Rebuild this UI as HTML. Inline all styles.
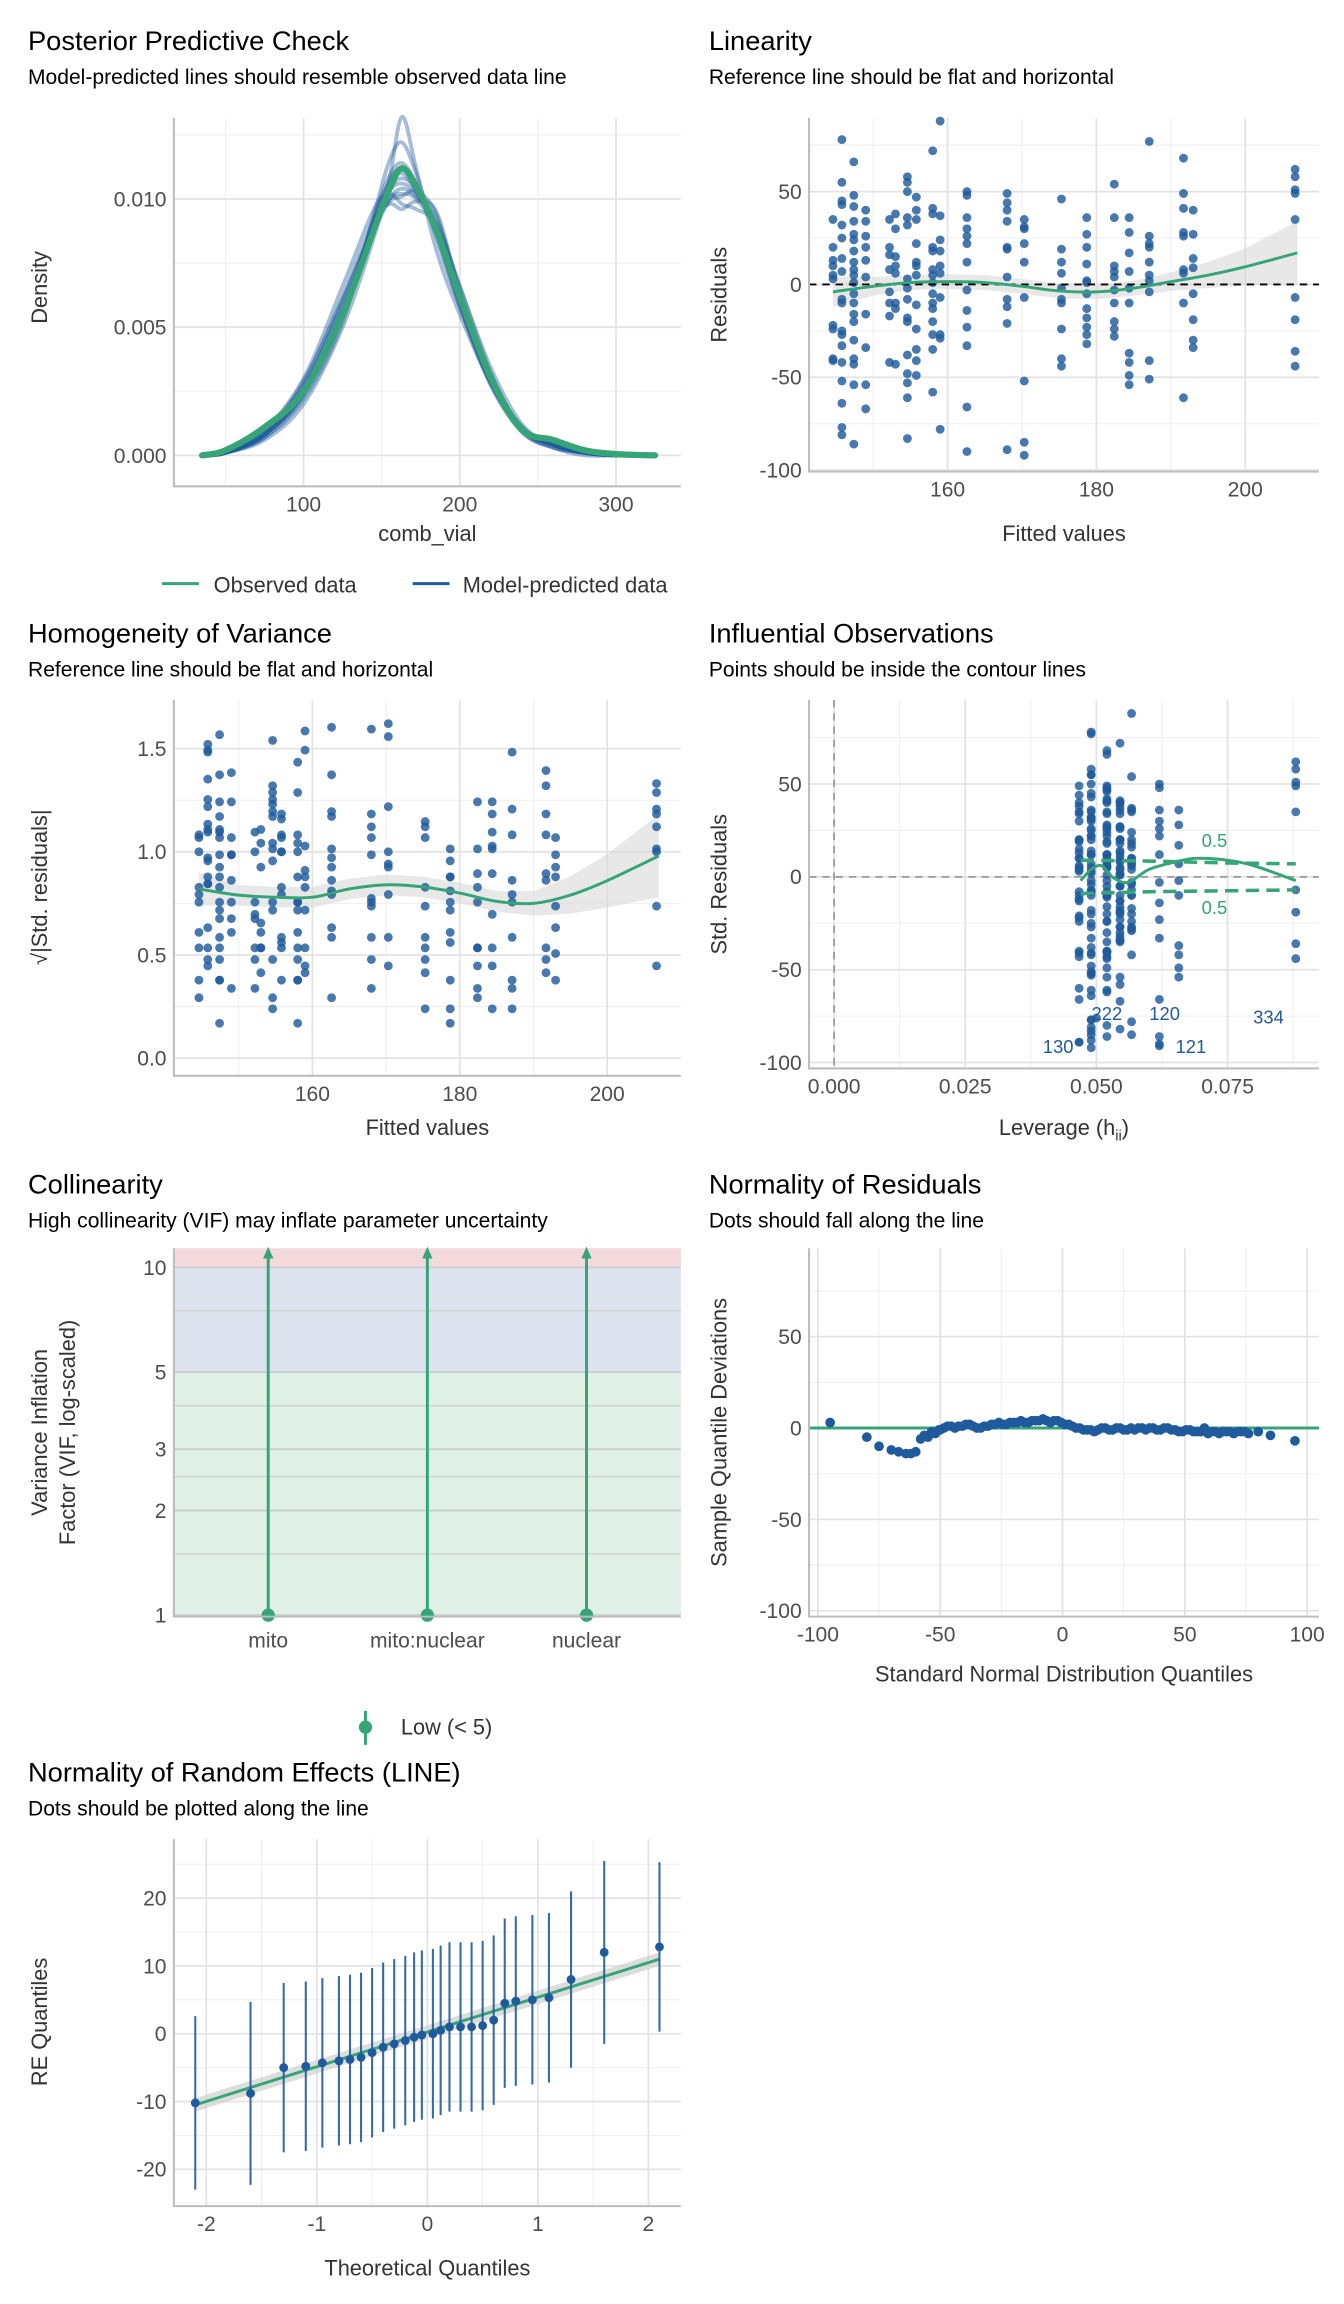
<!DOCTYPE html>
<html><head><meta charset="utf-8"><title>Model diagnostics</title>
<style>
html,body{margin:0;padding:0;background:#fff;}
svg{display:block;font-family:"Liberation Sans",Arial,sans-serif;}
.t{font-size:18.5px;fill:#000;}
.st{font-size:14.3px;fill:#000;}
.ax{font-size:14.8px;fill:#333;}
.tk{font-size:14.3px;fill:#4d4d4d;}
</style></head>
<body>
<svg id="fig" width="1344" height="2304" viewBox="0 0 912 1563.4" xmlns="http://www.w3.org/2000/svg">
<rect width="912" height="1563.4" fill="#fff"/>
<g id="bg"></g>
<g id="marks"></g>
<!-- titles -->
<text class="t" x="19" y="34">Posterior Predictive Check</text>
<text class="st" x="19" y="57">Model-predicted lines should resemble observed data line</text>
<text class="t" x="481" y="34">Linearity</text>
<text class="st" x="481" y="57">Reference line should be flat and horizontal</text>
<text class="t" x="19" y="436">Homogeneity of Variance</text>
<text class="st" x="19" y="459">Reference line should be flat and horizontal</text>
<text class="t" x="481" y="436">Influential Observations</text>
<text class="st" x="481" y="459">Points should be inside the contour lines</text>
<text class="t" x="19" y="810">Collinearity</text>
<text class="st" x="19" y="833">High collinearity (VIF) may inflate parameter uncertainty</text>
<text class="t" x="481" y="810">Normality of Residuals</text>
<text class="st" x="481" y="833">Dots should fall along the line</text>
<text class="t" x="19" y="1209">Normality of Random Effects (LINE)</text>
<text class="st" x="19" y="1232">Dots should be plotted along the line</text>
<!-- axis titles -->
<text class="ax" x="290" y="367" text-anchor="middle">comb_vial</text>
<text class="ax" transform="translate(32,195) rotate(-90)" text-anchor="middle">Density</text>
<text class="ax" x="722" y="367" text-anchor="middle">Fitted values</text>
<text class="ax" transform="translate(493,200) rotate(-90)" text-anchor="middle">Residuals</text>
<text class="ax" x="290" y="770" text-anchor="middle">Fitted values</text>
<text class="ax" transform="translate(32,602) rotate(-90)" text-anchor="middle">√|Std. residuals|</text>
<text class="ax" x="722" y="770" text-anchor="middle">Leverage (h<tspan font-size="10" dy="4">ii</tspan><tspan dy="-4">)</tspan></text>
<text class="ax" transform="translate(493,600) rotate(-90)" text-anchor="middle">Std. Residuals</text>
<text class="ax" transform="translate(32,972) rotate(-90)" text-anchor="middle">Variance Inflation</text>
<text class="ax" transform="translate(51,972) rotate(-90)" text-anchor="middle">Factor (VIF, log-scaled)</text>
<text class="ax" x="722" y="1141" text-anchor="middle">Standard Normal Distribution Quantiles</text>
<text class="ax" transform="translate(493,972) rotate(-90)" text-anchor="middle">Sample Quantile Deviations</text>
<text class="ax" x="290" y="1544" text-anchor="middle">Theoretical Quantiles</text>
<text class="ax" transform="translate(32,1372) rotate(-90)" text-anchor="middle">RE Quantiles</text>
<!-- legends -->
<g>
<line x1="110" y1="396" x2="135" y2="396" stroke="#35a476" stroke-width="2"/>
<text class="ax" x="145" y="402">Observed data</text>
<line x1="280" y1="396" x2="305" y2="396" stroke="#1f5a9c" stroke-width="2"/>
<text class="ax" x="314" y="402">Model-predicted data</text>
</g>
<g>
<line x1="248" y1="1161" x2="248" y2="1184" stroke="#35a476" stroke-width="2"/>
<circle cx="248" cy="1172" r="4.5" fill="#35a476"/>
<text class="ax" x="272" y="1177">Low (&lt; 5)</text>
</g>
</svg>
<script>
// ---------- DATA ----------
const ppcGrid = [35,50,75,100,125,145,155,163,172,185,200,220,240,260,280,300,325];
const ppcObserved = [0,0.0002,0.0011,0.0025,0.0055,0.0088,0.0104,0.0112,0.0105,0.0088,0.0062,0.0030,0.0010,0.0006,0.0002,0.00005,0];
const ppcPred1 = [0,0.0001,0.0008,0.0026,0.0060,0.0090,0.0100,0.0102,0.0100,0.0088,0.0062,0.0030,0.0011,0.0004,0.0001,0,0];
const ppcPred2 = [0,0.0001,0.0007,0.0022,0.0052,0.0094,0.0115,0.0122,0.0110,0.0085,0.0058,0.0028,0.0009,0.0003,0.0001,0,0];
const ppcPred3 = [0,0.0002,0.0010,0.0030,0.0066,0.0096,0.0102,0.0098,0.0096,0.0090,0.0066,0.0032,0.0010,0.0003,0,0,0];
const ppcPred4 = [0,0.0001,0.0006,0.0020,0.0050,0.0085,0.0108,0.0132,0.0112,0.0080,0.0055,0.0028,0.0010,0.0004,0.0001,0,0];
const ppcPred5 = [0,0.0001,0.0009,0.0028,0.0062,0.0092,0.0098,0.0096,0.0099,0.0095,0.0064,0.0030,0.0011,0.0005,0.0002,0.0001,0];
const ppcPred6 = [0,0.0001,0.0008,0.0024,0.0056,0.0090,0.0104,0.0108,0.0104,0.0090,0.0060,0.0028,0.0010,0.0004,0.0001,0,0];
const ppcPred7 = [0,0.0001,0.0009,0.0027,0.0058,0.0087,0.0100,0.0104,0.0101,0.0092,0.0066,0.0034,0.0012,0.0004,0.0001,0,0];
const ppcPred8 = [0,0.0001,0.0007,0.0023,0.0054,0.0093,0.0109,0.0114,0.0106,0.0086,0.0058,0.0027,0.0009,0.0003,0.0001,0,0];
const ppcPred9 = [0,0.0001,0.0008,0.0025,0.0057,0.0089,0.0103,0.0106,0.0102,0.0089,0.0061,0.0029,0.0010,0.0004,0.0001,0,0];
const ppcPred10 = [0,0.0001,0.0008,0.0025,0.0055,0.0091,0.0106,0.0110,0.0103,0.0087,0.0061,0.0030,0.0010,0.0004,0.0001,0,0];
const ppcPred11 = [0,0.0001,0.0009,0.0029,0.0061,0.0089,0.0099,0.0101,0.0103,0.0094,0.0063,0.0029,0.0010,0.0004,0.0001,0,0];
const ppcPred12 = [0,0.0001,0.0008,0.0024,0.0055,0.0092,0.0107,0.0112,0.0104,0.0087,0.0059,0.0028,0.0010,0.0004,0.0001,0,0];
const ppcXTicks = [100,200,300];
const ppcYTicks = [0,0.005,0.010];
const ppcYTickLabels = ["0.000","0.005","0.010"];

const fittedCols = [144.6,145.8,147.4,149,152.2,153,154.6,155.8,158,159,162.6,168,170.3,175.3,178.7,182.4,184.4,187.1,191.7,193,206.7];
const leverageCols = [0.0467,0.049,0.052,0.0545,0.0567,0.0467,0.049,0.052,0.0545,0.0567,0.062,0.0467,0.049,0.052,0.0545,0.0567,0.0657,0.049,0.052,0.0545,0.088];
const residualCols = [
 [35,20,13,10,5,3,-22,-24,-40,-41],
 [78,55,45,43,32,25,14,7,-8,-10,-25,-27,-33,-42,-52,-64,-77,-81],
 [66,48,42,34,27,24,18,12,8,5,1,-5,-10,-16,-20,-30,-40,-43,-54,-86],
 [40,34,26,20,13,4,-16,-34,-54,-67],
 [35,20,16,8,-4,-10,-17,-42],
 [38,30,15,10,6,-10,-13,-43],
 [58,55,50,36,32,3,-2,-8,-18,-20,-38,-48,-53,-61,-83],
 [47,40,35,22,12,10,5,-11,-24,-35,-41,-49],
 [72,41,38,20,18,8,5,1,-5,-10,-13,-20,-27,-35,-58],
 [88,37,24,18,10,6,-7,-27,-29,-78],
 [50,48,36,30,26,22,12,-3,-14,-23,-33,-66,-90],
 [49,44,40,34,20,19,4,-8,-12,-21,-89],
 [35,31,30,22,12,-7,-52,-85,-92],
 [46,19,12,6,-2,-8,-10,-24,-40,-44],
 [36,27,20,11,2,1,-5,-13,-18,-23,-27,-32],
 [54,36,10,7,4,-3,-10,-20,-24,-28],
 [36,28,17,7,-2,-10,-37,-42,-49,-54],
 [77,26,22,20,12,5,2,-4,-41,-51],
 [68,49,41,28,26,8,6,-10,-61],
 [40,27,14,9,-5,-19,-30,-34],
 [62,58,51,49,35,-7,-19,-36,-44]
];
const residualSigma = [35];
const linSmoothX = [144.6,150,155,160,165,170,175,180,185,190,195,200,207];
const linSmoothY = [-4,-1,1,1.5,1,-1,-3.5,-4,-2,1.5,5,9.5,17];
const linSmoothSE = [8,5,4,4,4,4,4,4,4,5,7,10,17];
const homSmoothY = [0.82,0.79,0.78,0.78,0.82,0.84,0.83,0.80,0.76,0.75,0.79,0.86,0.98];
const homSmoothSE = [0.08,0.05,0.05,0.05,0.05,0.05,0.05,0.05,0.05,0.06,0.09,0.13,0.2];
const fitXTicks = [160,180,200];
const linYTicks = [-100,-50,0,50];
const homYTicks = [0,0.5,1,1.5];
const homYTickLabels = ["0.0","0.5","1.0","1.5"];
// Influential
const extraLev = [0.0467,0.049,0.052,0.0545,0.0567,0.062,0.062,0.049,0.050,0.0467,0.0467,0.052];
const extraRes = [-89,-88,-80,-82,-85,-86,-91,-77,-76,-60,-66,-62];
const cookLev = [0.047,0.049,0.051,0.053,0.056,0.060,0.065,0.069,0.075,0.080,0.088];
const cookLine = [-2,4,6,0,-3,4,8,10,9,6,-2];
const contourLev = [0.047,0.060,0.075,0.088];
const contourUpper = [9,8.5,7.5,7];
const contourLower = [-9,-8,-7.5,-7];
const labelIds = ["130","222","120","121","334"];
const labelLev = [0.0427,0.052,0.063,0.068,0.0828];
const labelRes = [-91,-73,-73,-91,-75];
const levXTicks = [0,0.025,0.05,0.075];
const levXTickLabels = ["0.000","0.025","0.050","0.075"];
const vifTerms = ["mito","mito:nuclear","nuclear"];
const vifValues = [1,1,1];
const vifTicks = [1,2,3,5,10];
const qqX = [-95,-80,-75,-70,-67,-64,-62,-60,-58,-55,-52,-50,-47,-44,-41,-38,-35,-32,-29,-26,-23,-20,-17,-14,-11,-8,-5,-2,1,4,7,10,13,16,19,22,25,28,31,34,37,40,43,46,49,52,55,58,61,64,67,70,73,76,80,85,95];
const qqY = [3,-5,-10,-12,-13,-14,-14,-13,-6,-5,-3,-1,1,0,1,2,0,1,2,3,2,3,4,3,4,5,3,4,2,1,0,-1,-2,0,-1,0,-1,0,0,-1,0,-1,0,-1,-2,-1,-2,0,-2,-3,-2,-3,-2,-3,-2,-4,-7];
const qqX2 = [-56.5,-53.5,-50.5,-48.5,-45.5,-42.5,-39.5,-36.5,-33.5,-30.5,-27.5,-24.5,-21.5,-18.5,-15.5,-12.5,-9.5,-6.5,-3.5,-0.5,2.5,5.5,8.5,11.5,14.5,17.5,20.5,23.5,26.5,29.5,32.5,35.5,38.5,41.5,44.5,47.5,50.5,53.5,56.5,59.5,62.5,65.5,68.5,71.5,74.5];
const qqY2 = [-4,-2,-1,0,1,1,2,1,0,1,2,2,3,3,3,4,4,4,4,3,2,0,-1,-1,-1,0,-1,0,-1,-1,0,0,-1,0,-1,-2,-1,-2,-2,-3,-2,-2,-2,-2,-2];
const qqXTicks = [-100,-50,0,50,100];
const qqYTicks = [-100,-50,0,50];
const reTheo = [-2.1,-1.6,-1.3,-1.1,-0.95,-0.8,-0.7,-0.6,-0.5,-0.4,-0.3,-0.2,-0.12,-0.05,0.05,0.12,0.2,0.3,0.4,0.5,0.6,0.7,0.8,0.95,1.1,1.3,1.6,2.1];
const reVals = [-10.2,-8.8,-5,-4.8,-4.3,-4,-3.8,-3.5,-2.8,-2,-1.5,-1,-0.5,-0.2,0,0.5,1,1,1,1.2,2,4.5,4.8,5,5.3,8,12,12.8];
const reHalfCI = [12.8,13.5,12.5,12.5,12.5,12.5,12.5,12.5,12.5,12.5,12.5,12.5,12.5,12.5,12.5,12.5,12.5,12.5,12.5,12.5,12.5,12.5,12.5,12.5,12.5,13,13.5,12.5];
const reLineX = [-2.1,2.1];
const reLineY = [-10.5,11];
const reXTicks = [-2,-1,0,1,2];
const reYTicks = [-20,-10,0,10,20];

// ---------- HELPERS ----------
const NS = "http://www.w3.org/2000/svg";
const bg = document.getElementById('bg');
const marks = document.getElementById('marks');
function mk(tag, attrs, parent){
  const e = document.createElementNS(NS, tag);
  for (const k in attrs) e.setAttribute(k, attrs[k]);
  (parent||marks).appendChild(e);
  return e;
}
function lin(d0,d1,p0,p1){ return v => p0 + (v-d0)*(p1-p0)/(d1-d0); }
function smoothPath(pts){
  let d = "M"+pts[0][0]+","+pts[0][1];
  for (let i=0;i<pts.length-1;i++){
    const p0=pts[Math.max(0,i-1)], p1=pts[i], p2=pts[i+1], p3=pts[Math.min(pts.length-1,i+2)];
    const c1x=p1[0]+(p2[0]-p0[0])/6, c1y=p1[1]+(p2[1]-p0[1])/6;
    const c2x=p2[0]-(p3[0]-p1[0])/6, c2y=p2[1]-(p3[1]-p1[1])/6;
    d += " C"+c1x.toFixed(2)+","+c1y.toFixed(2)+" "+c2x.toFixed(2)+","+c2y.toFixed(2)+" "+p2[0].toFixed(2)+","+p2[1].toFixed(2);
  }
  return d;
}
function panelFrame(P, name, xMaj, xMin, yMaj, yMin, xs, ys, gridCol){
  const gc = gridCol || "#e3e3e3";
  xMin.forEach(v => {
    const l = mk('line',{x1:xs(v),x2:xs(v),y1:P.y0,y2:P.y1,stroke:"#efefef","stroke-width":0.7},bg);
    
    
  });
  yMin.forEach(v => {
    const l = mk('line',{x1:P.x0,x2:P.x1,y1:ys(v),y2:ys(v),stroke:"#efefef","stroke-width":0.7},bg);
    
    
  });
  xMaj.forEach(v => {
    const l = mk('line',{x1:xs(v),x2:xs(v),y1:P.y0,y2:P.y1,stroke:gc,"stroke-width":1.2},bg);
    
    
  });
  yMaj.forEach(v => {
    const l = mk('line',{x1:P.x0,x2:P.x1,y1:ys(v),y2:ys(v),stroke:gc,"stroke-width":1.2},bg);
    
    
  });
}
function axes(P, name){
  const a = mk('path',{d:"M"+P.x0+","+P.y0+" V"+P.y1+" H"+P.x1,fill:"none",stroke:"#bdbdbd","stroke-width":1.4});
  
  
}
function xTicks(P, name, vals, labels, xs){
  vals.forEach((v,i) => {
    const t = mk('text',{x:xs(v),y:P.y1+17,"text-anchor":"middle",class:"tk"});
    t.textContent = labels ? labels[i] : String(v);
    
    
  });
}
function yTicks(P, name, vals, labels, ys){
  vals.forEach((v,i) => {
    const t = mk('text',{x:P.x0-5,y:ys(v)+5,"text-anchor":"end",class:"tk"});
    t.textContent = labels ? labels[i] : String(v);
    
    
  });
}
const BLUE = "#1f5a9c", GREEN = "#35a476";

// ---------- PANEL 1: PPC ----------
{
  const P = {x0:118,x1:462,y0:80,y1:330};
  const xs = lin(100,200,206,312), ys = lin(0,0.005,309,222);
  panelFrame(P,'ppc',ppcXTicks,[50,150,250],ppcYTicks,[0.0025,0.0075,0.0125],xs,ys);
  const preds = [ppcPred1,ppcPred2,ppcPred3,ppcPred4,ppcPred5,ppcPred6,ppcPred7,ppcPred8,ppcPred9,ppcPred10,ppcPred11,ppcPred12];
  preds.forEach(arr => {
    const p = mk('path',{d:smoothPath(ppcGrid.map((g,i)=>[xs(g),ys(arr[i])])),fill:"none",stroke:BLUE,"stroke-width":2.6,"stroke-opacity":0.4});
    
    
  });
  const o = mk('path',{d:smoothPath(ppcGrid.map((g,i)=>[xs(g),ys(ppcObserved[i])])),fill:"none",stroke:GREEN,"stroke-width":4.2,"stroke-linecap":"round"});
  
  
  axes(P,'ppc');
  xTicks(P,'ppc',ppcXTicks,null,xs);
  yTicks(P,'ppc',ppcYTicks,ppcYTickLabels,ys);
}

// ---------- PANEL 2: Linearity ----------
{
  const P = {x0:549,x1:895,y0:80,y1:320};
  const xs = lin(160,200,643,845), ys = lin(0,50,193,130);
  panelFrame(P,'linearity',fitXTicks,[150,170,190],linYTicks,[-75,-25,25,75],xs,ys);
  const band = linSmoothX.map((x,i)=>[xs(x),ys(linSmoothY[i]+linSmoothSE[i])]).concat(linSmoothX.map((x,i)=>[xs(x),ys(linSmoothY[i]-linSmoothSE[i])]).reverse());
  const b = mk('path',{d:"M"+band.map(p=>p.join(",")).join(" L")+"Z",fill:"#d9d9d9","fill-opacity":0.6});
  
  
  fittedCols.forEach((f,ci) => residualCols[ci].forEach(r => {
    const c = mk('circle',{cx:xs(f),cy:ys(r),r:3,fill:BLUE,"fill-opacity":0.82});
    
    
  }));
  const z = mk('line',{x1:P.x0,x2:P.x1,y1:ys(0),y2:ys(0),stroke:"#000","stroke-width":1.2,"stroke-dasharray":"5,4"});
  
  
  const s = mk('path',{d:smoothPath(linSmoothX.map((x,i)=>[xs(x),ys(linSmoothY[i])])),fill:"none",stroke:GREEN,"stroke-width":2});
  
  
  axes(P,'linearity');
  xTicks(P,'linearity',fitXTicks,null,xs);
  yTicks(P,'linearity',linYTicks,null,ys);
}

// ---------- PANEL 3: Homogeneity ----------
{
  const P = {x0:118,x1:462,y0:475,y1:730};
  const xs = lin(160,200,212,412), ys = lin(0,1,718,578);
  panelFrame(P,'homogeneity',fitXTicks,[150,170,190],homYTicks,[0.25,0.75,1.25],xs,ys);
  const band = linSmoothX.map((x,i)=>[xs(x),ys(homSmoothY[i]+homSmoothSE[i])]).concat(linSmoothX.map((x,i)=>[xs(x),ys(homSmoothY[i]-homSmoothSE[i])]).reverse());
  const b = mk('path',{d:"M"+band.map(p=>p.join(",")).join(" L")+"Z",fill:"#d9d9d9","fill-opacity":0.6});
  
  
  fittedCols.forEach((f,ci) => residualCols[ci].forEach(r => {
    const c = mk('circle',{cx:xs(f),cy:ys(Math.sqrt(Math.abs(r)/residualSigma[0])),r:3,fill:BLUE,"fill-opacity":0.82});
    
    
  }));
  const s = mk('path',{d:smoothPath(linSmoothX.map((x,i)=>[xs(x),ys(homSmoothY[i])])),fill:"none",stroke:GREEN,"stroke-width":2});
  
  
  axes(P,'homogeneity');
  xTicks(P,'homogeneity',fitXTicks,null,xs);
  yTicks(P,'homogeneity',homYTicks,homYTickLabels,ys);
}

// ---------- PANEL 4: Influential ----------
{
  const P = {x0:549,x1:895,y0:475,y1:725};
  const xs = lin(0,0.025,566,655), ys = lin(0,50,595,532);
  panelFrame(P,'influential',levXTicks,[0.0125,0.0375,0.0625,0.0875],linYTicks,[-75,-25,25,75],xs,ys);
  const v = mk('line',{x1:xs(0),x2:xs(0),y1:P.y0,y2:P.y1,stroke:"#999","stroke-width":1.2,"stroke-dasharray":"5,4"});
  
  
  const h = mk('line',{x1:P.x0,x2:P.x1,y1:ys(0),y2:ys(0),stroke:"#999","stroke-width":1.2,"stroke-dasharray":"5,4"});
  
  
  leverageCols.forEach((l,ci) => residualCols[ci].forEach(r => {
    const c = mk('circle',{cx:xs(l),cy:ys(r),r:3,fill:BLUE,"fill-opacity":0.82});
    
    
  }));
  extraLev.forEach((l,i) => {
    const c = mk('circle',{cx:xs(l),cy:ys(extraRes[i]),r:3,fill:BLUE,"fill-opacity":0.82});
    
    
  });
  [contourUpper,contourLower].forEach(arr => {
    const p = mk('path',{d:"M"+contourLev.map((l,i)=>xs(l)+","+ys(arr[i])).join(" L"),fill:"none",stroke:GREEN,"stroke-width":2.4,"stroke-dasharray":"9,5"});
    
    
  });
  const s = mk('path',{d:smoothPath(cookLev.map((l,i)=>[xs(l),ys(cookLine[i])])),fill:"none",stroke:GREEN,"stroke-width":2});
  
  
  const t1 = mk('text',{x:xs(0.0725),y:ys(20)+5,"text-anchor":"middle",fill:GREEN,"font-size":"12.5px"});
  t1.textContent = "0.5";
  
  
  const t2 = mk('text',{x:xs(0.0725),y:ys(-16)+5,"text-anchor":"middle",fill:GREEN,"font-size":"12.5px"});
  t2.textContent = "0.5";
  
  
  labelIds.forEach((id,i) => {
    const t = mk('text',{x:xs(labelLev[i]),y:ys(labelRes[i])+5,"text-anchor":"middle",fill:BLUE,"font-size":"12.5px"});
    t.textContent = id;
    
    
  });
  axes(P,'influential');
  xTicks(P,'influential',levXTicks,levXTickLabels,xs);
  yTicks(P,'influential',linYTicks,null,ys);
}

// ---------- PANEL 5: Collinearity ----------
{
  const P = {x0:118,x1:462,y0:847,y1:1097};
  const ys = v => 1096 - Math.log10(v)*236;
  const xs = i => 182 + i*108;
  const r1 = mk('rect',{x:P.x0,y:P.y0,width:P.x1-P.x0,height:ys(10)-P.y0,fill:"#f4d9dc"},bg);
  
  
  const r2 = mk('rect',{x:P.x0,y:ys(10),width:P.x1-P.x0,height:ys(5)-ys(10),fill:"#dde3ee"},bg);
  
  
  const r3 = mk('rect',{x:P.x0,y:ys(5),width:P.x1-P.x0,height:ys(1)-ys(5),fill:"#dff0e7"},bg);
  
  
  [1.5,2.5,4,7.5].forEach(v => {
    const l = mk('line',{x1:P.x0,x2:P.x1,y1:ys(v),y2:ys(v),stroke:"#c9d0cc","stroke-width":0.8},bg);
    
    
  });
  vifTicks.forEach(v => {
    const l = mk('line',{x1:P.x0,x2:P.x1,y1:ys(v),y2:ys(v),stroke:"#c9cdcf","stroke-width":1.2},bg);
    
    
  });
  vifTerms.forEach((term,i) => {
    const l = mk('line',{x1:xs(i),x2:xs(i),y1:ys(vifValues[i]),y2:P.y0+4,stroke:GREEN,"stroke-width":2});
    
    
    const a = mk('path',{d:"M"+(xs(i)-3.5)+","+(P.y0+7)+" L"+xs(i)+","+(P.y0-1)+" L"+(xs(i)+3.5)+","+(P.y0+7)+"Z",fill:GREEN});
    
    
    const c = mk('circle',{cx:xs(i),cy:ys(vifValues[i]),r:4.5,fill:GREEN});
    
    
    const t = mk('text',{x:xs(i),y:P.y1+21,"text-anchor":"middle",class:"tk"});
    t.textContent = term;
    
    
  });
  axes(P,'collinearity');
  yTicks(P,'collinearity',vifTicks,null,ys);
}

// ---------- PANEL 6: Normality of residuals ----------
{
  const P = {x0:549,x1:895,y0:847,y1:1097};
  const xs = lin(0,50,721,804), ys = lin(0,50,969,907);
  panelFrame(P,'normality',qqXTicks,[-75,-25,25,75],qqYTicks,[-75,-25,25,75],xs,ys);
  const l = mk('line',{x1:P.x0,x2:P.x1,y1:ys(0),y2:ys(0),stroke:GREEN,"stroke-width":2});
  
  
  qqX.forEach((x,i) => {
    const c = mk('circle',{cx:xs(x),cy:ys(qqY[i]),r:3.3,fill:BLUE});
    
    
  });
  qqX2.forEach((x,i) => {
    const c = mk('circle',{cx:xs(x),cy:ys(qqY2[i]),r:3.3,fill:BLUE});
    
    
  });
  axes(P,'normality');
  xTicks(P,'normality',qqXTicks,null,xs);
  yTicks(P,'normality',qqYTicks,null,ys);
}

// ---------- PANEL 7: Random effects ----------
{
  const P = {x0:118,x1:462,y0:1248,y1:1497};
  const xs = lin(0,1,290,365), ys = lin(0,10,1380,1334);
  panelFrame(P,'random-effects',reXTicks,[-1.5,-0.5,0.5,1.5],reYTicks,[-25,-15,-5,5,15,25],xs,ys);
  const band = [[xs(reLineX[0]),ys(reLineY[0]+1)],[xs(reLineX[1]),ys(reLineY[1]+1)],[xs(reLineX[1]),ys(reLineY[1]-1)],[xs(reLineX[0]),ys(reLineY[0]-1)]];
  const b = mk('path',{d:"M"+band.map(p=>p.join(",")).join(" L")+"Z",fill:"#cfcfcf","fill-opacity":0.7});
  
  
  const l = mk('line',{x1:xs(reLineX[0]),y1:ys(reLineY[0]),x2:xs(reLineX[1]),y2:ys(reLineY[1]),stroke:GREEN,"stroke-width":2});
  
  
  reTheo.forEach((q,i) => {
    const e = mk('line',{x1:xs(q),x2:xs(q),y1:ys(reVals[i]-reHalfCI[i]),y2:ys(reVals[i]+reHalfCI[i]),stroke:BLUE,"stroke-width":1.4,"stroke-opacity":0.9});
    
    
    const c = mk('circle',{cx:xs(q),cy:ys(reVals[i]),r:3,fill:BLUE});
    
    
  });
  axes(P,'random-effects');
  xTicks(P,'random-effects',reXTicks,null,xs);
  yTicks(P,'random-effects',reYTicks,null,ys);
}
</script>
</body></html>
